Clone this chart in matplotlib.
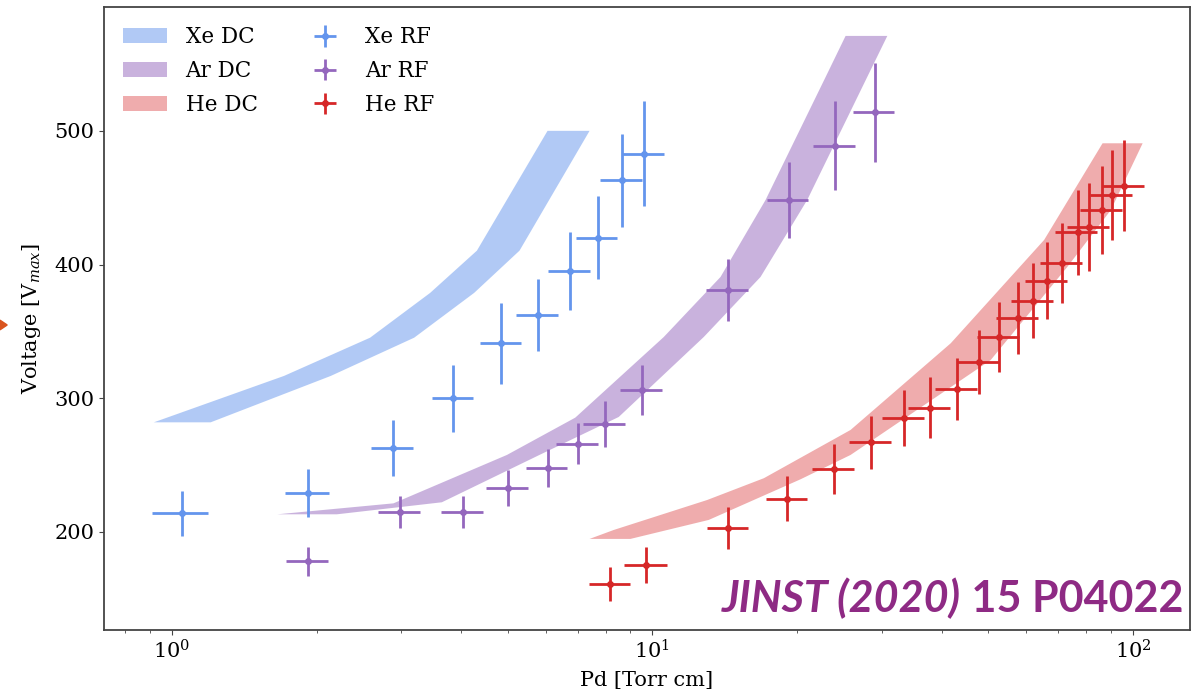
import matplotlib
matplotlib.use("Agg")
import matplotlib.pyplot as plt
from matplotlib.patches import Patch, Polygon

plt.rcParams['font.family'] = 'DejaVu Serif'
plt.rcParams['mathtext.fontset'] = 'dejavuserif'

# DC breakdown bands: left (low Pd) edge and right (high Pd) edge
xe_dc_left_pd = [0.917, 1.711, 2.585, 3.447, 4.313, 6.05]
xe_dc_left_v = [282, 316.7, 345.3, 378.8, 410.4, 500]
xe_dc_right_pd = [1.204, 2.141, 3.193, 4.256, 5.29, 7.40]
xe_dc_right_v = [282, 316.7, 345.3, 378.8, 410.4, 500]

ar_dc_left_pd = [1.657, 2.891, 4.98, 6.91, 10.56, 13.86, 17.2, 22.94, 25.24]
ar_dc_left_v = [213.2, 221.4, 257.6, 285.5, 345.8, 390.7, 448.3, 540.3, 571]
ar_dc_right_pd = [2.204, 3.646, 5.82, 8.51, 12.79, 16.79, 21.0, 28.0, 30.83]
ar_dc_right_v = [213.2, 222.2, 257.6, 286.0, 345.8, 390.7, 448.3, 540.3, 571]

he_dc_left_pd = [7.40, 8.31, 13.0, 17.06, 25.85, 41.77, 65.36, 86.48]
he_dc_left_v = [194.8, 201.5, 223.9, 240.2, 276.3, 341.1, 418.4, 490.7]
he_dc_right_pd = [9.0, 13.1, 20.34, 25.85, 50.6, 73.1, 90.0, 104.8]
he_dc_right_v = [194.8, 209, 239.4, 257.6, 328.6, 398.4, 440.8, 490.7]

# RF breakdown measurements
xe_rf_pd = [1.05, 1.92, 2.89, 3.85, 4.85, 5.77, 6.73, 7.69, 8.66, 9.6]
xe_rf_v = [214, 229, 263, 300, 341, 362, 395, 420, 463, 483]
xe_rf_pd_err = [0.14, 0.2, 0.29, 0.38, 0.48, 0.58, 0.67, 0.77, 0.87, 0.96]
xe_rf_v_err = [17, 18, 21, 25, 30, 27, 29, 31, 35, 39]

ar_rf_pd = [1.92, 2.985, 4.03, 5.0, 6.05, 7.01, 7.98, 9.52, 14.4, 19.2, 24.0, 29.0]
ar_rf_v = [178, 215, 215, 233, 248, 266, 281, 306, 381, 448, 489, 514]
ar_rf_pd_err = [0.19, 0.3, 0.4, 0.5, 0.6, 0.7, 0.8, 0.95, 1.44, 1.92, 2.4, 2.9]
ar_rf_v_err = [11, 12, 12, 13.5, 14, 15.3, 17.2, 18.5, 23.5, 28.5, 33, 37]

he_rf_pd = [8.17, 9.72, 14.4, 19.1, 23.9, 28.5, 33.4, 37.8, 43.0, 47.8,
            52.7, 57.6, 61.9, 66.3, 71.2, 76.7, 81.2, 86.1, 90.7, 95.9]
he_rf_v = [161, 175, 203, 225, 247, 267, 285, 293, 307, 327,
           346, 360, 373, 388, 401, 424, 428, 441, 452, 459]
he_rf_pd_err = [0.8, 1.0, 1.4, 1.9, 2.4, 2.9, 3.3, 3.8, 4.3, 4.8,
                5.3, 5.8, 6.2, 6.6, 7.1, 7.7, 8.1, 8.6, 9.1, 9.6]
he_rf_v_err = [12.5, 13.5, 15.5, 16.5, 18.7, 20, 21, 23, 23, 24,
               26, 27, 28, 29, 30, 32, 33, 33, 34, 34]

xe_color = '#6495ED'
ar_color = '#9467BD'
he_color = '#D62728'

fig = plt.figure(figsize=(11.99, 6.9), dpi=100)
ax = fig.add_axes([0.0867, 0.087, 0.9058, 0.903])


def band(left_pd, left_v, right_pd, right_v, color, alpha):
    xs = list(left_pd) + list(right_pd)[::-1]
    ys = list(left_v) + list(right_v)[::-1]
    ax.fill(xs, ys, color=color, alpha=alpha, lw=0)


band(xe_dc_left_pd, xe_dc_left_v, xe_dc_right_pd, xe_dc_right_v, xe_color, 0.5)
band(ar_dc_left_pd, ar_dc_left_v, ar_dc_right_pd, ar_dc_right_v, ar_color, 0.5)
band(he_dc_left_pd, he_dc_left_v, he_dc_right_pd, he_dc_right_v, he_color, 0.38)

eb_kw = dict(fmt='o', markersize=4, elinewidth=2, capsize=0)
ax.errorbar(xe_rf_pd, xe_rf_v, xerr=xe_rf_pd_err, yerr=xe_rf_v_err, color=xe_color, **eb_kw)
ax.errorbar(ar_rf_pd, ar_rf_v, xerr=ar_rf_pd_err, yerr=ar_rf_v_err, color=ar_color, **eb_kw)
ax.errorbar(he_rf_pd, he_rf_v, xerr=he_rf_pd_err, yerr=he_rf_v_err, color=he_color, **eb_kw)

ax.set_xscale('log')
ax.set_xlim(0.722, 131.5)
ax.set_ylim(126.7, 592.7)
ax.set_yticks([200, 300, 400, 500])
ax.tick_params(labelsize=15, color='#444444')
ax.tick_params(which='minor', color='#444444')
for sp in ax.spines.values():
    sp.set_color('#444444')
    sp.set_linewidth(1.3)

ax.set_xlabel('Pd [Torr cm]', fontsize=15, labelpad=6)
ax.set_ylabel('Voltage [V$_{max}$]', fontsize=15, labelpad=8)

# legend: DC bands in first column, RF points in second
handles = [
    Patch(color=xe_color, alpha=0.5, lw=0),
    Patch(color=ar_color, alpha=0.5, lw=0),
    Patch(color=he_color, alpha=0.38, lw=0),
]
labels = ['Xe DC', 'Ar DC', 'He DC']
for c, name in [(xe_color, 'Xe RF'), (ar_color, 'Ar RF'), (he_color, 'He RF')]:
    h = ax.errorbar([], [], xerr=[], yerr=[], color=c, **eb_kw)
    handles.append(h)
    labels.append(name)
ax.legend(handles, labels, ncol=2, loc='upper left', frameon=False, fontsize=15.5,
          bbox_to_anchor=(0.0, 1.0), handlelength=2.05, handletextpad=0.84,
          columnspacing=2.1, labelspacing=0.55)

# watermark
wm_color = '#8E2A84'
fig.canvas.draw()
t2 = fig.text(0.987, 0.113, ' 15 P04022', ha='right', va='baseline', fontsize=31,
              fontweight='bold', color=wm_color, family='Lato')
fig.canvas.draw()
bb = t2.get_window_extent()
x0 = bb.x0 / fig.bbox.width
fig.text(x0, 0.113, 'JINST (2020)', ha='right', va='baseline', fontsize=31,
         fontweight='bold', style='italic', color=wm_color, family='Lato')

# small orange marker at left edge
fig.patches.append(Polygon([[0, 0.536], [0.006, 0.529], [0, 0.522]], closed=True,
                           transform=fig.transFigure, color='#D9541E'))

fig.savefig('out.png', dpi=100)
